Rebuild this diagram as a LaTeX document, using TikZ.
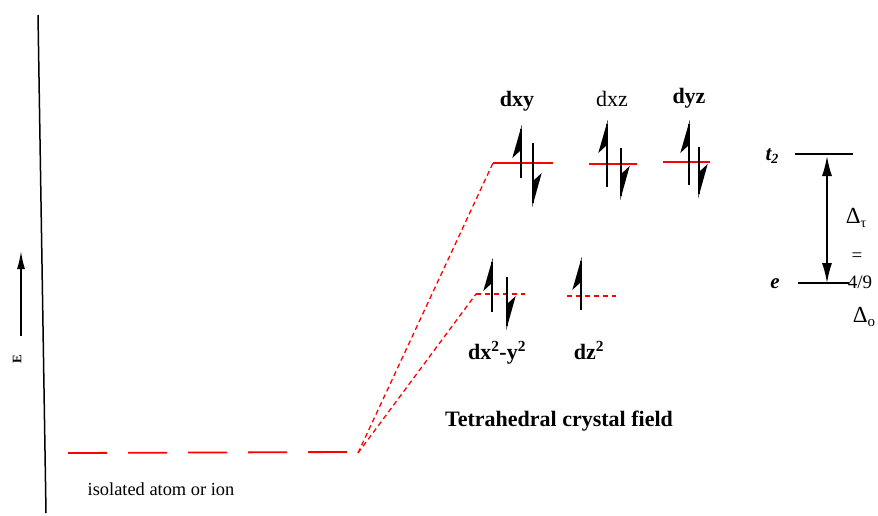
\documentclass[tikz,border=0pt]{standalone}
\usepackage{fontspec}
\setmainfont{Liberation Serif}
\usetikzlibrary{arrows.meta}
\tikzset{
  lvl/.style={red, line width=1.8pt},
  lvldash/.style={red, line width=1.5pt, dash pattern=on 5pt off 4pt},
  conn/.style={red, line width=1.3pt, dash pattern=on 5pt off 3.5pt},
  elec/.style={black, line width=1.6pt},
  blab/.style={font=\fontsize{22}{24}\selectfont\bfseries, inner sep=0pt},
  rlab/.style={font=\fontsize{19}{21}\selectfont, inner sep=0pt},
}
\newcommand\elup[3]{\draw[elec] (#1,#2) -- (#1,#3+4);\fill (#1+0.8,#3) -- ++(-9.5,33) -- ++(8.7,-8) -- cycle;}
\newcommand\eldown[3]{\draw[elec] (#1,#2) -- (#1,#3-4);\fill (#1-0.8,#3) -- ++(9.5,-34) -- ++(-8.7,8) -- cycle;}
\newcommand\bigdelta{{\fontsize{23}{24}\selectfont Δ}}
\begin{document}
\begin{tikzpicture}[x=1pt,y=-1pt]
\useasboundingbox (0,0) rectangle (878,515);
% energy axis
\coordinate (axt) at (38,15); \coordinate (axb) at (46,513);
\draw[line width=1.5pt] (axt) -- (axb);
\coordinate (eb) at (21,336); \coordinate (et) at (21,251);
\draw[line width=1.6pt, -{Latex[length=18pt,width=8pt]}] (eb) -- (et);
\node[rotate=90, font=\fontsize{13}{14}\selectfont\bfseries, inner sep=0pt] (E) at (17,359) {E};
% isolated atom
\coordinate (iso1) at (68,453); \coordinate (iso2) at (348,452);
\draw[red, line width=1.8pt, dash pattern=on 39pt off 21pt] (iso1) -- (iso2);
\node[rlab, font=\fontsize{18.4}{20}\selectfont] (isolab) at (161,489) {isolated atom or ion};
\coordinate (src) at (358,453);
% t2 levels
\coordinate (t2a) at (493,163); \coordinate (t2b) at (553,163);
\draw[lvl] (t2a) -- (t2b);
\coordinate (t2c) at (589,164); \coordinate (t2d) at (637,164);
\draw[lvl] (t2c) -- (t2d);
\coordinate (t2e) at (663,162); \coordinate (t2f) at (710,162);
\draw[lvl] (t2e) -- (t2f);
% e levels
\coordinate (ea) at (476,294); \coordinate (eb2) at (525,294);
\draw[lvldash] (ea) -- (eb2);
\coordinate (ec) at (567,296); \coordinate (ed) at (616,296);
\draw[lvldash] (ec) -- (ed);
% connectors
\draw[conn] (src) -- (t2a);
\draw[conn] (src) -- (ea);
% electrons
\elup{521}{178}{125}
\eldown{533}{143}{207}
\elup{607}{187}{120}
\eldown{621}{148}{200}
\elup{689}{185}{120}
\eldown{699}{147}{198}
\elup{492}{312}{258}
\eldown{507}{277}{330}
\elup{581}{310}{257}
% labels
\node[blab] (dxy) at (517,101) {dxy};
\node[rlab, font=\fontsize{22}{24}\selectfont] (dxz) at (612,99) {dxz};
\node[blab] (dyz) at (689,98) {dyz};
\node[blab, anchor=base] (dx2) at (497,359) {dx\textsuperscript{2}-y\textsuperscript{2}};
\node[blab, anchor=base] (dz2) at (589,359) {dz\textsuperscript{2}};
\node[blab] (tcf) at (559,421) {Tetrahedral crystal field};
% right diagram
\coordinate (rt1) at (795,154); \coordinate (rt2) at (853,154);
\draw[line width=1.4pt] (rt1) -- (rt2);
\coordinate (re1) at (798,283); \coordinate (re2) at (849,283);
\draw[line width=1.4pt] (re1) -- (re2);
\node[font=\fontsize{21}{23}\selectfont\bfseries\itshape, inner sep=0pt] (t2lab) at (772,156) {t\raisebox{-0.35ex}{\fontsize{14}{15}\selectfont 2}};
\node[font=\fontsize{21}{23}\selectfont\bfseries\itshape, inner sep=0pt] (elab) at (775,284) {e};
\coordinate (da) at (827,156); \coordinate (db) at (827,283);
\draw[line width=1.5pt, {Latex[length=20pt,width=10pt]}-{Latex[length=20pt,width=10pt]}] (da) -- (db);
\node[rlab] (dt) at (856,218) {\bigdelta\raisebox{-0.5ex}{\fontsize{14}{15}\selectfont τ}};
\node[rlab] (eq) at (857,257) {=};
\node[rlab] (frac) at (860,282) {4/9};
\node[rlab] (do) at (864,317) {\bigdelta\raisebox{-0.5ex}{\fontsize{15}{16}\selectfont o}};
\end{tikzpicture}
\end{document}
